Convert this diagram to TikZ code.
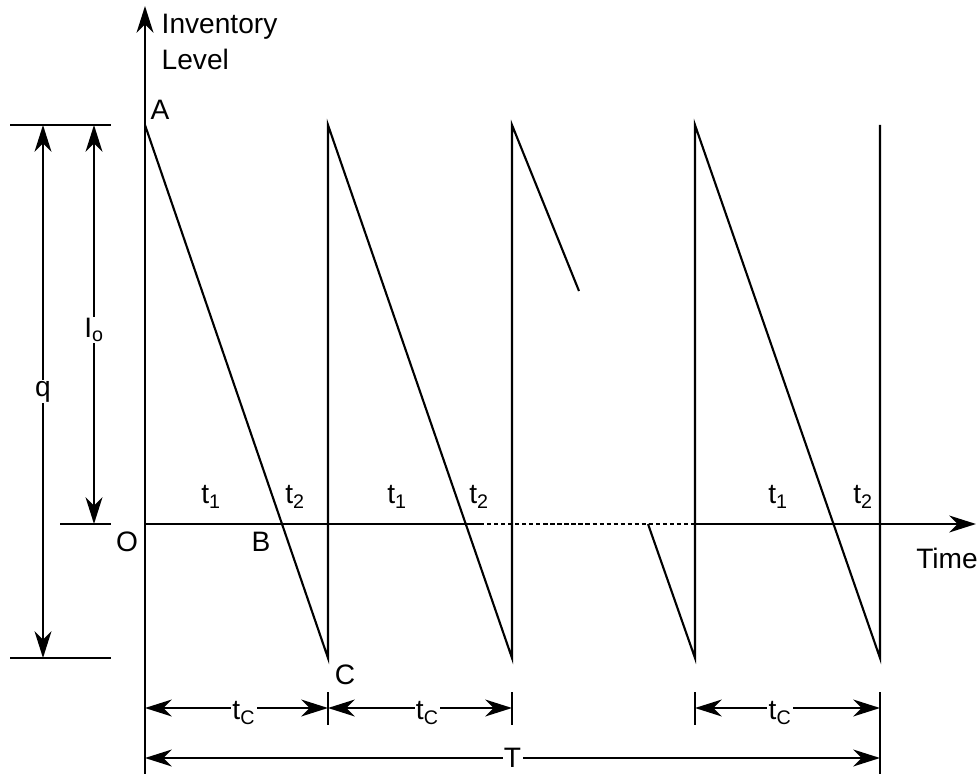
\documentclass[tikz,border=0pt]{standalone}
\usepackage{fontspec}
\setmainfont{Liberation Sans}
\usetikzlibrary{arrows.meta}

\begin{document}
\begin{tikzpicture}[
        x=0.025cm, y=-0.025cm,
        axis/.style={line width=1.6pt},
        saw/.style={line width=1.5pt},
        tip/.style={line width=1.5pt, arrows={-Stealth[length=19pt,width=12pt,inset=6pt]}},
        dim/.style={line width=1.5pt, arrows={Stealth[length=19pt,width=12pt,inset=6pt]-Stealth[length=19pt,width=12pt,inset=6pt]}},
        lbl/.style={font=\fontsize{20}{25}\selectfont, inner sep=1pt},
        gap/.style={lbl, fill=white}
    ]
        \useasboundingbox (0,0) rectangle (980,774);

        % axes
        \coordinate (O) at (145,524);
        \draw[axis,tip] (145,774) -- (145,6);
        \draw[axis] (O) -- (480,524);
        \draw[axis, dash pattern=on 3pt off 2pt] (480,524) -- (695,524);
        \draw[axis,tip] (695,524) -- (976,524);

        % extension lines on the left
        \draw[saw] (10,125) -- (111,125);
        \draw[saw] (60,524) -- (111,524);
        \draw[saw] (10,658) -- (111,658);

        % inventory sawtooth
        \coordinate (A) at (145,125);
        \coordinate (C) at (328,658);
        \draw[saw] (A) -- (C) -- (328,125) -- (512,658) -- (512,125) -- (579,291);
        \draw[saw] (648,524) -- (695,658) -- (695,125) -- (880,658) -- (880,125);

        % ticks for the dimension lines
        \draw[saw] (328,692) -- (328,725);
        \draw[saw] (512,692) -- (512,725);
        \draw[saw] (695,692) -- (695,725);
        \draw[saw] (880,692) -- (880,774);

        % dimensions
        \draw[dim] (43,125) -- (43,658) node[gap, midway] {q};
        \draw[dim] (94,125) -- (94,524) node[gap, midway, yshift=-4pt] {I\textsubscript{o}};
        \draw[dim] (145,708) -- (328,708) node[gap, pos=0.54, yshift=-3.5pt] {t\textsubscript{C}};
        \draw[dim] (328,708) -- (512,708) node[gap, pos=0.54, yshift=-3.5pt] {t\textsubscript{C}};
        \draw[dim] (695,708) -- (880,708) node[gap, pos=0.46, yshift=-3.5pt] {t\textsubscript{C}};
        \draw[dim] (145,758) -- (880,758) node[gap, midway] {T};

        % labels
        \node[lbl, anchor=west, align=left] (ylab) at (160,42) {Inventory\\Level};
        \node[lbl] (xlab) at (947,558) {Time};
        \node[lbl] (lA) at (160,110) {A};
        \node[lbl] (lO) at (127,542) {O};
        \node[lbl] (lB) at (261,542) {B};
        \node[lbl] (lC) at (345,675) {C};
        \node[lbl] (t1a) at (211,497) {t\textsubscript{1}};
        \node[lbl] (t2a) at (295,497) {t\textsubscript{2}};
        \node[lbl] (t1b) at (397,497) {t\textsubscript{1}};
        \node[lbl] (t2b) at (479,497) {t\textsubscript{2}};
        \node[lbl] (t1c) at (778,497) {t\textsubscript{1}};
        \node[lbl] (t2c) at (863,497) {t\textsubscript{2}};
    \end{tikzpicture}
\end{document}
